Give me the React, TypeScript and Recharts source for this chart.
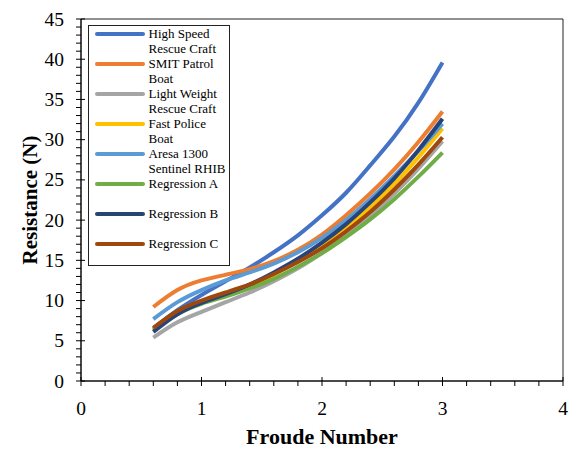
import { LineChart, Line, XAxis, YAxis, Legend, ReferenceArea } from "recharts";

const SERIF = "'Liberation Serif', 'Times New Roman', Times, serif";

const froude = [0.6, 0.8, 1.0, 1.2, 1.4, 1.6, 1.8, 2.0, 2.2, 2.4, 2.6, 2.8, 3.0];

// resistance (N)
const highSpeed = [6.5, 8.8, 10.7, 12.4, 14.1, 16.0, 18.1, 20.6, 23.4, 26.8, 30.4, 34.6, 39.6];
const smitPatrol = [9.2, 11.3, 12.5, 13.2, 13.9, 14.9, 16.3, 18.2, 20.6, 23.3, 26.3, 29.7, 33.5];
const lightWeight = [5.4, 7.3, 8.6, 9.8, 11.0, 12.4, 14.0, 15.9, 18.0, 20.5, 23.3, 26.4, 29.8];
const fastPolice = [6.4, 8.4, 9.7, 10.7, 11.8, 13.2, 14.9, 16.8, 19.0, 21.6, 24.5, 27.8, 31.4];
const aresa = [7.7, 9.8, 11.3, 12.5, 13.5, 14.6, 16.0, 17.8, 20.0, 22.6, 25.5, 28.6, 32.0];
const regA = [6.3, 8.3, 9.6, 10.5, 11.5, 12.7, 14.2, 15.9, 17.9, 20.1, 22.6, 25.4, 28.4];
const regB = [6.1, 8.3, 9.7, 10.8, 12.0, 13.5, 15.2, 17.2, 19.5, 22.2, 25.2, 28.7, 32.6];
const regC = [6.6, 8.7, 10.0, 11.0, 12.0, 13.3, 14.8, 16.5, 18.6, 21.0, 23.8, 26.9, 30.3];

const xMajor = [0, 1, 2, 3, 4];
const yMajor = [0, 5, 10, 15, 20, 25, 30, 35, 40, 45];
const xTicks = Array.from({ length: 21 }, (_, i) => i / 5);
const yTicks = Array.from({ length: 46 }, (_, i) => i);

const series = [
  { key: "hs", name: "High Speed\nRescue Craft", color: "#4472C4", values: highSpeed },
  { key: "smit", name: "SMIT Patrol\nBoat", color: "#ED7D31", values: smitPatrol },
  { key: "lw", name: "Light Weight\nRescue Craft", color: "#A5A5A5", values: lightWeight },
  { key: "fp", name: "Fast Police\nBoat", color: "#FFC000", values: fastPolice },
  { key: "aresa", name: "Aresa 1300\nSentinel RHIB", color: "#5B9BD5", values: aresa },
  { key: "ra", name: "Regression A", color: "#70AD47", values: regA },
  { key: "rb", name: "Regression B", color: "#264478", values: regB },
  { key: "rc", name: "Regression C", color: "#9E480E", values: regC },
];

const data = froude.map((fr, i) => {
  const row: Record<string, number> = { fr };
  series.forEach((s) => (row[s.key] = s.values[i]));
  return row;
});

const Y_GAP = 17;
const X_GAP = 20;

function YTick({ x, y, payload }: any) {
  const v = payload.value;
  const ax = x + Y_GAP;
  const major = yMajor.includes(v);
  return (
    <g>
      <line x1={ax - 5} x2={major ? ax + 4 : ax} y1={y} y2={y} stroke="#000" />
      {major && (
        <text x={x} y={y} dy={6.5} textAnchor="end" style={{ fontFamily: SERIF, fontSize: 19.5 }} fill="#000">
          {v}
        </text>
      )}
    </g>
  );
}

function XTick({ x, y, payload }: any) {
  const v = payload.value;
  const ay = y - X_GAP;
  const major = xMajor.some((m) => Math.abs(m - v) < 1e-6);
  return (
    <g>
      <line x1={x} x2={x} y1={major ? ay - 4 : ay} y2={ay + 5} stroke="#000" />
      {major && (
        <text x={x} y={y} dy={14} textAnchor="middle" style={{ fontFamily: SERIF, fontSize: 19.5 }} fill="#000">
          {Math.round(v)}
        </text>
      )}
    </g>
  );
}

// drawn from the series list so the order stays as in the original legend
function LegendBox() {
  return (
    <div
      style={{
        width: 142,
        height: 241,
        boxSizing: "border-box",
        border: "1.5px solid #222",
        background: "#fff",
        paddingTop: 1,
        fontFamily: SERIF,
        fontSize: 13,
        lineHeight: "14.5px",
        color: "#000",
      }}
    >
      {series.map((s) => (
        <div key={s.key} style={{ display: "flex", height: 30 }}>
          <div
            style={{
              width: 50,
              height: 4,
              borderRadius: 2,
              background: s.color,
              marginLeft: 5.5,
              marginTop: 5.25,
              flexShrink: 0,
            }}
          />
          <div style={{ marginLeft: 4, whiteSpace: "pre-line" }}>{s.name}</div>
        </div>
      ))}
    </div>
  );
}

export default function App() {
  return (
    <div style={{ position: "absolute", left: 0, top: 0, background: "#fff" }}>
      <LineChart
        width={576}
        height={449}
        data={data}
        margin={{ top: 19, right: 13, bottom: 0, left: 0 }}
      >
        <XAxis
          dataKey="fr"
          type="number"
          domain={[0, 4]}
          ticks={xTicks}
          interval={0}
          height={68}
          tickSize={0}
          tickMargin={X_GAP}
          tick={<XTick />}
          axisLine={{ stroke: "#000" }}
          label={{
            value: "Froude Number",
            position: "insideBottom",
            offset: 5,
            style: { fontFamily: SERIF, fontSize: 22, fontWeight: "bold", fill: "#000" },
          }}
        />
        <YAxis
          type="number"
          domain={[0, 45]}
          ticks={yTicks}
          interval={0}
          width={81}
          tickSize={0}
          tickMargin={Y_GAP}
          tick={<YTick />}
          axisLine={{ stroke: "#000" }}
          label={{
            value: "Resistance (N)",
            angle: -90,
            position: "insideLeft",
            offset: 30,
            style: { fontFamily: SERIF, fontSize: 21, fontWeight: "bold", fill: "#000", textAnchor: "middle" },
          }}
        />
        <ReferenceArea x1={0} x2={4} y1={0} y2={45} fill="none" stroke="#222" strokeWidth={1} />
        {series.map((s) => (
          <Line
            key={s.key}
            dataKey={s.key}
            name={s.name}
            type="natural"
            stroke={s.color}
            strokeWidth={4}
            dot={false}
            isAnimationActive={false}
          />
        ))}
        <Legend
          layout="vertical"
          align="center"
          verticalAlign="middle"
          content={<LegendBox />}
          wrapperStyle={{ left: 88, top: 25, width: 142 }}
        />
      </LineChart>
    </div>
  );
}
